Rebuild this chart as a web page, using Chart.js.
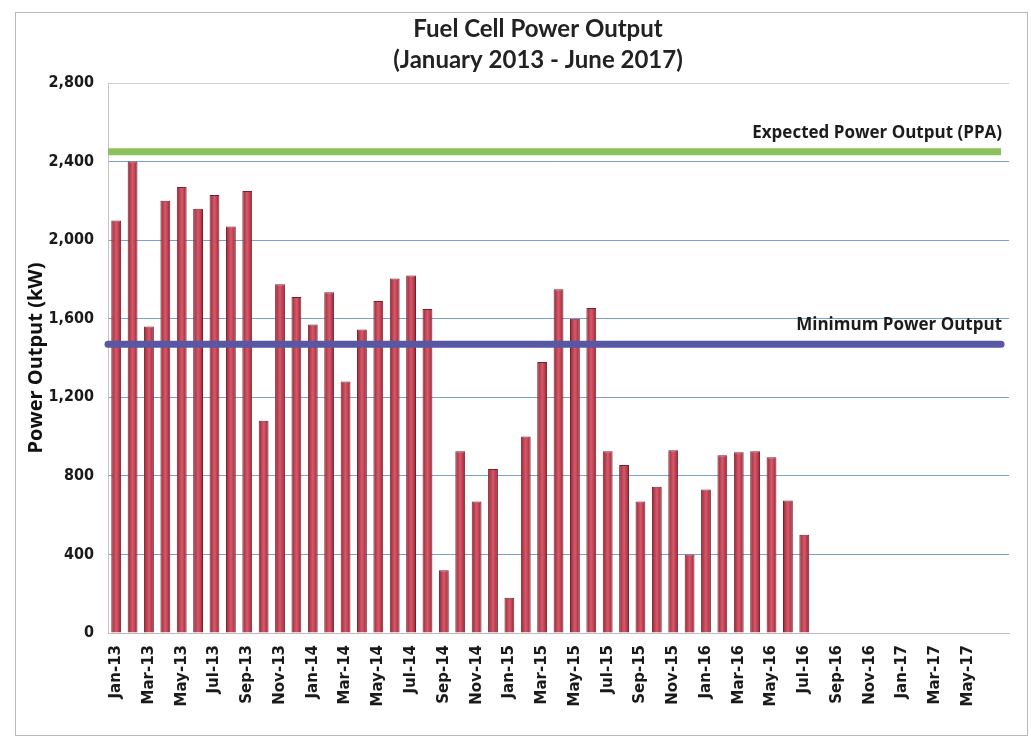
<!DOCTYPE html>
<html>
<head>
<meta charset="utf-8">
<title>Fuel Cell Power Output</title>
<script src="https://cdn.jsdelivr.net/npm/chart.js@4.4.1/dist/chart.umd.min.js"></script>
<style>
  html, body { margin: 0; padding: 0; background: #fff; }
  #wrap { position: relative; width: 1031px; height: 740px; }
  #frame { position: absolute; left: 15px; top: 12px; width: 1011px; height: 722px; border: 1px solid #b9b9b9; pointer-events: none; }
  canvas { position: absolute; left: 0; top: 0; }
</style>
</head>
<body>
<div id="wrap">
  <canvas id="powerChart" width="1031" height="740"></canvas>
  <div id="frame"></div>
</div>
<script>
  // month slots on the x axis, last one is an empty slot after Jun-17
  const months = [
    "Jan-13", "Feb-13", "Mar-13", "Apr-13", "May-13", "Jun-13", "Jul-13", "Aug-13", "Sep-13", "Oct-13", "Nov-13", "Dec-13",
    "Jan-14", "Feb-14", "Mar-14", "Apr-14", "May-14", "Jun-14", "Jul-14", "Aug-14", "Sep-14", "Oct-14", "Nov-14", "Dec-14",
    "Jan-15", "Feb-15", "Mar-15", "Apr-15", "May-15", "Jun-15", "Jul-15", "Aug-15", "Sep-15", "Oct-15", "Nov-15", "Dec-15",
    "Jan-16", "Feb-16", "Mar-16", "Apr-16", "May-16", "Jun-16", "Jul-16", "Aug-16", "Sep-16", "Oct-16", "Nov-16", "Dec-16",
    "Jan-17", "Feb-17", "Mar-17", "Apr-17", "May-17", "Jun-17", ""
  ];

  // monthly average output, kW (Jan-13 .. Jul-16)
  const outputKw = [
    2100, 2400, 1560, 2200, 2270, 2160, 2230, 2070, 2250, 1080, 1775, 1710,
    1570, 1735, 1280, 1545, 1690, 1805, 1820, 1650, 320, 925, 670, 835,
    180, 1000, 1380, 1750, 1600, 1655, 925, 855, 670, 745, 930, 400,
    730, 905, 920, 925, 895, 675, 500
  ];

  const expectedKw = 2450;  // PPA expected output
  const minimumKw = 1470;   // contract minimum

  const yTicks = [0, 400, 800, 1200, 1600, 2000, 2400, 2800];
  const titleLines = ["Fuel Cell Power Output", "(January 2013 - June 2017)"];

  // two wide horizontal bands for the contract levels, drawn over the bars
  const levelLines = {
    id: "levelLines",
    afterDatasetsDraw(chart) {
      const { ctx, chartArea, scales } = chart;
      const items = [
        { value: expectedKw, color: "#8cc25b", text: "Expected Power Output (PPA)", cap: "butt" },
        { value: minimumKw, color: "#5757a5", text: "Minimum Power Output", cap: "round" }
      ];
      ctx.save();
      items.forEach((it) => {
        const y = scales.y.getPixelForValue(it.value);
        ctx.strokeStyle = it.color;
        ctx.lineWidth = 7;
        ctx.lineCap = it.cap;
        ctx.beginPath();
        ctx.moveTo(chartArea.left, y);
        ctx.lineTo(chartArea.right - 8, y);
        ctx.stroke();
        ctx.fillStyle = "#1c1c1c";
        ctx.font = "bold 17px 'Open Sans'";
        ctx.textAlign = "right";
        ctx.textBaseline = "middle";
        ctx.fillText(it.text, chartArea.right - 7, y - 19);
      });
      ctx.restore();
    }
  };

  const headerText = {
    id: "headerText",
    afterDraw(chart) {
      const { ctx } = chart;
      ctx.save();
      ctx.fillStyle = "#222";
      ctx.font = "bold 24px Lato";
      ctx.textAlign = "center";
      ctx.textBaseline = "middle";
      titleLines.forEach((line, i) => ctx.fillText(line, 538, 29 + i * 31));
      ctx.restore();
    }
  };

  function barFill(context) {
    const chart = context.chart;
    const x = chart.scales.x;
    if (!x || x.width === undefined) return "#c24455";
    const cx = x.getPixelForValue(context.dataIndex);
    const hw = (x.width / months.length) * 0.6 / 2;
    const g = chart.ctx.createLinearGradient(cx - hw, 0, cx + hw, 0);
    g.addColorStop(0, "#8a2631");
    g.addColorStop(0.3, "#c34456");
    g.addColorStop(0.5, "#d35a6b");
    g.addColorStop(0.7, "#c34456");
    g.addColorStop(1, "#8a2631");
    return g;
  }

  const chart = new Chart(document.getElementById("powerChart"), {
    type: "bar",
    data: {
      labels: months,
      datasets: [{
        label: "Power Output",
        data: outputKw,
        backgroundColor: barFill,
        borderColor: "#7a202a",
        borderWidth: 1,
        barPercentage: 0.6,
        categoryPercentage: 1.0
      }]
    },
    options: {
      responsive: false,
      animation: false,
      layout: { padding: { left: 20, right: 14, top: 83, bottom: 7 } },
      plugins: {
        legend: { display: false },
        title: { display: false },
        tooltip: { enabled: false }
      },
      scales: {
        x: {
          grid: { display: false, drawTicks: false },
          border: { color: "#bdbdbd" },
          afterFit: (s) => { s.height = 100; },
          ticks: {
            autoSkip: false,
            maxRotation: 90,
            minRotation: 90,
            padding: 12,
            color: "#1a1a1a",
            font: { family: "'DejaVu Sans'", weight: "bold", size: 15 },
            callback: (val, i) => (i % 2 === 0 ? months[i] : "")
          }
        },
        y: {
          min: 0,
          max: 2800,
          afterFit: (s) => { s.width = 88; },
          afterBuildTicks: (s) => { s.ticks = yTicks.map((v) => ({ value: v })); },
          border: { color: "#c4c4c4" },
          grid: {
            drawTicks: false,
            lineWidth: 1,
            color: (c) => (c.tick && (c.tick.value === 2800 || c.tick.value === 0) ? "#cfcfcf" : "rgba(79,129,189,0.75)")
          },
          ticks: {
            padding: 14,
            color: "#1a1a1a",
            font: { family: "'DejaVu Sans Condensed', 'DejaVu Sans'", weight: "bold", size: 16 },
            callback: (v) => v.toLocaleString("en-US")
          },
          title: {
            display: true,
            text: "Power Output (kW)",
            color: "#111",
            padding: { top: 4, bottom: 0 },
            font: { family: "'Open Sans'", weight: "bold", size: 20 }
          }
        }
      }
    },
    plugins: [levelLines, headerText]
  });
</script>
</body>
</html>
